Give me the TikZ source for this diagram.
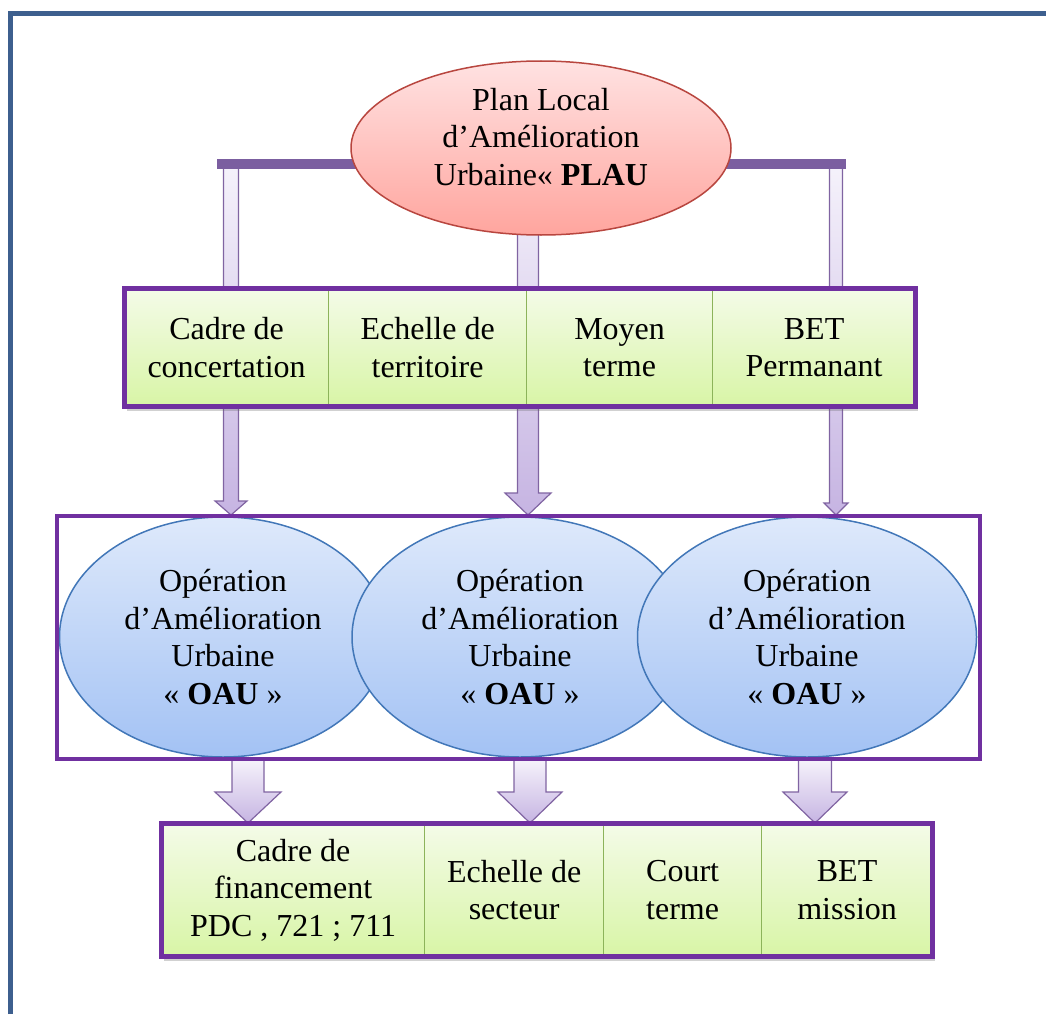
\documentclass[tikz,border=0pt]{standalone}
\usepackage{fontspec}
\setmainfont{Liberation Serif}
\usetikzlibrary{shapes.geometric,shadows}

\definecolor{pageblue}{HTML}{3D5F8E}
\definecolor{framepurple}{HTML}{7030A0}
\definecolor{barpurple}{HTML}{7B5EA0}
\definecolor{arrowline}{HTML}{8064A2}
\definecolor{arrowtop}{HTML}{F5F2FB}
\definecolor{arrowbot}{HTML}{C6B4E2}
\definecolor{cellline}{HTML}{8CB35A}
\definecolor{celltop}{HTML}{F4FBE8}
\definecolor{cellbot}{HTML}{D8F5A6}
\definecolor{redline}{HTML}{B8463F}
\definecolor{redtop}{HTML}{FFE2E2}
\definecolor{redbot}{HTML}{FFA59E}
\definecolor{blueline}{HTML}{4277B8}
\definecolor{bluetop}{HTML}{DEE9FB}
\definecolor{bluebot}{HTML}{A3C2F4}

% block arrow: centre x, top y, head y, tip y, half shaft width, half head width
\newcommand\blockarrow[6]{%
  \draw[barrow] (#1-#5,#2) -- (#1+#5,#2) -- (#1+#5,#3) -- (#1+#6,#3)
    -- (#1,#4) -- (#1-#6,#3) -- (#1-#5,#3) -- cycle;}

\tikzset{
  barrow/.style={draw=arrowline, line width=1.2pt, line join=miter,
    top color=arrowtop, bottom color=arrowbot},
  cell/.style={draw=cellline, line width=1.2pt, top color=celltop,
    bottom color=cellbot, inner sep=0pt, align=center, anchor=north west},
  frame/.style={draw=framepurple, line width=5pt},
  oau/.style={ellipse, draw=blueline, line width=1.5pt, top color=bluetop,
    bottom color=bluebot, inner sep=0pt, align=center},
  boxshadow/.style={fill=white, drop shadow={shadow xshift=3pt,
    shadow yshift=-5pt, opacity=0.3, fill=black!60}},
}

\begin{document}
\begin{tikzpicture}[x=1pt, y=-1pt, font=\fontsize{32}{37.5}\selectfont]
\useasboundingbox (0,0) rectangle (1046,1014);

% page border
\draw[pageblue, line width=5pt, line join=miter] (10,1014) -- (10,14) -- (1046,14);

% arrows from the plan down to the operations
\blockarrow{231}{166}{501}{515}{7.5}{16}
\blockarrow{528}{166}{493}{515}{10.5}{23}
\blockarrow{836}{166}{503}{515}{6.5}{12}

% distribution bar
\draw[barpurple, line width=10pt] (217,164) -- (846,164);

% plan ellipse
\node[ellipse, draw=redline, line width=1.5pt, top color=redtop,
  bottom color=redbot, minimum width=380pt, minimum height=174pt,
  inner sep=0pt] (plau) at (541,148) {};
\node[align=center] (plautext) at (541,137)
  {Plan Local\\d’Amélioration\\Urbaine« \textbf{PLAU}};

% upper row of cells
\path[boxshadow] (124,288) rectangle (915,406);
\node[cell, minimum width=204pt, minimum height=118pt] (t1) at (124,288) {Cadre de\\concertation};
\node[cell, minimum width=198pt, minimum height=118pt] (t2) at (328,288) {Echelle de\\territoire};
\node[cell, minimum width=186pt, minimum height=118pt] (t3) at (526,288) {Moyen\\terme};
\node[cell, minimum width=203pt, minimum height=118pt] (t4) at (712,288) {BET\\Permanant};
\draw[frame] (124,288) rectangle (915,406);

% operations
\node[oau, minimum width=327pt, minimum height=240pt] (o1) at (223,637)
  {Opération\\d’Amélioration\\Urbaine\\« \textbf{OAU} »};
\node[oau, minimum width=336pt, minimum height=240pt] (o2) at (520,637)
  {Opération\\d’Amélioration\\Urbaine\\« \textbf{OAU} »};
\node[oau, minimum width=339pt, minimum height=240pt] (o3) at (807,637)
  {Opération\\d’Amélioration\\Urbaine\\« \textbf{OAU} »};

% arrows down to the lower row
\blockarrow{248}{760}{792}{823}{16}{33}
\blockarrow{530}{760}{792}{823}{16}{32}
\blockarrow{815}{760}{792}{823}{16.5}{32}

\draw[framepurple, line width=4pt] (57,516) rectangle (980,759);

% lower row of cells
\path[boxshadow] (161,823) rectangle (932,956);
\node[cell, minimum width=263pt, minimum height=133pt] (b1) at (161,823) {Cadre de\\financement\\PDC , 721 ; 711};
\node[cell, minimum width=179pt, minimum height=133pt] (b2) at (424,823) {Echelle de\\secteur};
\node[cell, minimum width=158pt, minimum height=133pt] (b3) at (603,823) {Court\\terme};
\node[cell, minimum width=171pt, minimum height=133pt] (b4) at (761,823) {BET\\mission};
\draw[frame] (161,823) rectangle (932,956);
\end{tikzpicture}
\end{document}
